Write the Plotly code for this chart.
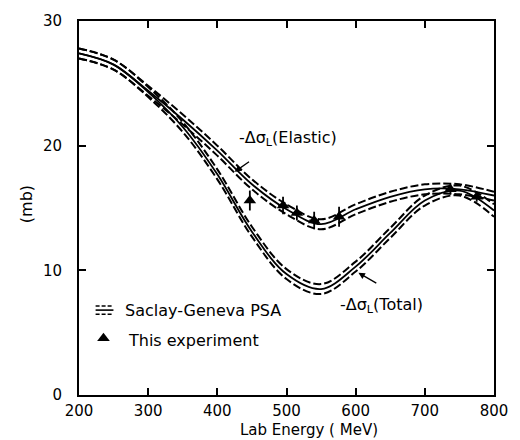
import plotly.graph_objects as go

# ---- data ----
energy = [200, 250, 300, 350, 400, 450, 500, 550, 600, 650, 700, 750, 800]

elastic_mid = [27.4, 26.5, 24.4, 22.1, 19.6, 16.9, 14.9, 13.7, 14.9, 15.9, 16.5, 16.5, 16.0]
elastic_hi = [27.8, 26.9, 24.8, 22.5, 20.0, 17.3, 15.3, 14.1, 15.3, 16.3, 16.9, 16.9, 16.3]
elastic_lo = [27.0, 26.1, 24.0, 21.7, 19.2, 16.5, 14.5, 13.3, 14.5, 15.5, 16.1, 16.1, 15.6]

total_mid = [27.4, 26.5, 24.3, 21.5, 17.7, 13.1, 9.7, 8.5, 10.3, 13.0, 15.6, 16.4, 14.8]
total_hi = [27.8, 26.9, 24.7, 21.9, 18.1, 13.5, 10.1, 8.9, 10.7, 13.4, 16.0, 16.8, 15.3]
total_lo = [27.0, 26.1, 23.9, 21.1, 17.3, 12.7, 9.3, 8.1, 9.9, 12.6, 15.2, 16.0, 14.3]

exp_energy = [447, 495, 515, 540, 576, 737, 775]
exp_value = [15.6, 15.2, 14.6, 14.0, 14.3, 16.5, 15.9]
exp_err = [0.8, 0.7, 0.6, 0.7, 0.8, 0.4, 0.4]
exp_eerr = [0, 7, 7, 7, 0, 7, 7]

x_ticks = [200, 300, 400, 500, 600, 700, 800]
y_ticks = [0, 10, 20, 30]

FONT = "DejaVu Sans"
INK = "black"

fig = go.Figure()

def add_band(mid, hi, lo):
    for ys, dash, w in ((hi, "8px,3px", 2.0), (mid, "solid", 1.8), (lo, "8px,3px", 2.0)):
        fig.add_trace(go.Scatter(x=energy, y=ys, mode="lines",
                                 line=dict(color=INK, width=w, dash=dash, shape="spline", smoothing=1.0),
                                 showlegend=False, hoverinfo="skip"))

add_band(elastic_mid, elastic_hi, elastic_lo)
add_band(total_mid, total_hi, total_lo)

fig.add_trace(go.Scatter(
    x=exp_energy, y=exp_value, mode="markers",
    marker=dict(symbol="triangle-up", size=11, color=INK),
    error_y=dict(type="data", array=exp_err, color=INK, thickness=1.8, width=0),
    error_x=dict(type="data", array=exp_eerr, color=INK, thickness=1.8, width=0),
    showlegend=False))

# ---- legend drawn by hand (paper coords) ----
for yy, dash in ((0.238, "dash"), (0.227, "solid"), (0.216, "dash")):
    fig.add_shape(type="line", xref="paper", yref="paper", x0=0.040, x1=0.083, y0=yy, y1=yy,
                  line=dict(color=INK, width=1.6, dash="4px,2px" if dash == "dash" else "solid"))
fig.add_annotation(xref="paper", yref="paper", x=0.107, y=0.227, text="Saclay-Geneva PSA",
                   showarrow=False, xanchor="left", yanchor="middle", font=dict(family=FONT, size=16, color=INK))
fig.add_trace(go.Scatter(x=[0.059], y=[0.152], xaxis="x2", yaxis="y2", mode="markers",
                         marker=dict(symbol="triangle-up", size=11, color=INK), showlegend=False,
                         hoverinfo="skip"))
fig.add_annotation(xref="paper", yref="paper", x=0.114, y=0.146, text="This experiment",
                   showarrow=False, xanchor="left", yanchor="middle", font=dict(family=FONT, size=16, color=INK))

# ---- curve labels ----
fig.add_annotation(x=429, y=20.6, text="-Δσ<sub>L</sub>(Elastic)", showarrow=False,
                   xanchor="left", yanchor="middle", font=dict(family=FONT, size=16, color=INK))
fig.add_annotation(x=425, y=17.9, ax=448, ay=18.8, axref="x", ayref="y", text="",
                   showarrow=True, arrowhead=2, arrowsize=1, arrowwidth=1.3, arrowcolor=INK)
fig.add_annotation(x=574, y=7.2, text="-Δσ<sub>L</sub>(Total)", showarrow=False,
                   xanchor="left", yanchor="middle", font=dict(family=FONT, size=16, color=INK))
fig.add_annotation(x=604, y=9.8, ax=632, ay=8.9, axref="x", ayref="y", text="",
                   showarrow=True, arrowhead=2, arrowsize=1, arrowwidth=1.3, arrowcolor=INK)

# axis titles
fig.add_annotation(xref="paper", yref="paper", x=0.555, y=-0.093, text="Lab Energy ( MeV)",
                   showarrow=False, xanchor="center", yanchor="middle", font=dict(family=FONT, size=15, color=INK))
fig.add_annotation(xref="paper", yref="paper", x=-0.128, y=0.51, text="(mb)", textangle=-90,
                   showarrow=False, xanchor="center", yanchor="middle", font=dict(family=FONT, size=16, color=INK))

axis_common = dict(showgrid=False, zeroline=False, showline=True, linecolor=INK, linewidth=2,
                   ticks="inside", ticklen=7, tickwidth=2, tickcolor=INK, mirror="ticks",
                   tickfont=dict(family=FONT, size=15, color=INK))

fig.update_layout(
    width=520, height=440,
    margin=dict(l=79, r=19, t=13, b=45),
    paper_bgcolor="white", plot_bgcolor="white",
    showlegend=False,
    xaxis=dict(range=[200, 800], tickvals=x_ticks, ticktext=[str(v) for v in x_ticks],
               ticklabelstandoff=1, **axis_common),
    yaxis=dict(range=[0, 30], tickvals=y_ticks, ticktext=[str(v) for v in y_ticks],
               ticklabelstandoff=12, **axis_common),
    xaxis2=dict(range=[0, 1], domain=[0, 1], visible=False, overlaying="x"),
    yaxis2=dict(range=[0, 1], domain=[0, 1], visible=False, overlaying="y"),
)

fig.write_html("out.html", config={"displayModeBar": False},
               post_script="document.body.style.margin='0px';document.body.style.overflow='hidden';")
